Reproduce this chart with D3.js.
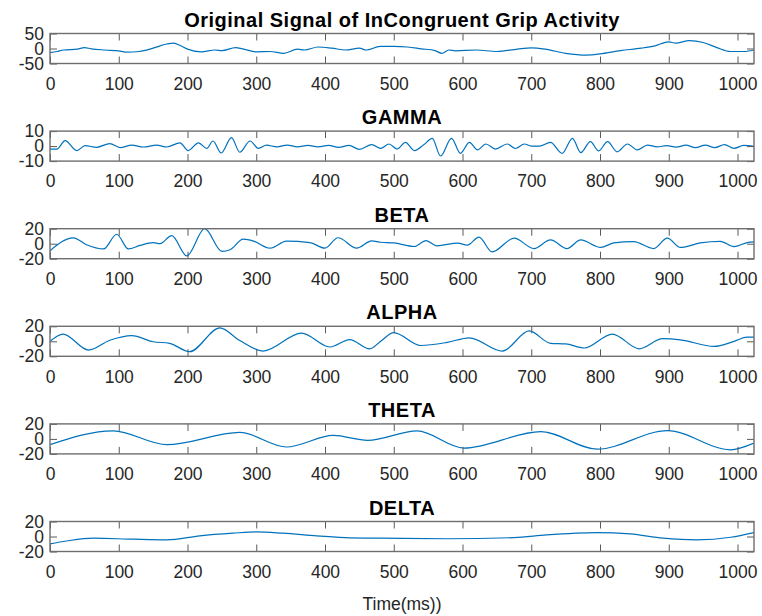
<!DOCTYPE html>
<html>
<head>
<meta charset="UTF-8">
<title>Original Signal of InCongruent Grip Activity</title>
<style>
  body { margin: 0; background: #fff; }
  text { font-family: "Liberation Sans", Arial, Helvetica, sans-serif; }
  .tick-label { fill: #262626; font-size: 17.5px; }
  .panel-title { fill: #000; font-size: 20px; font-weight: bold; letter-spacing: 0.5px; }
</style>
</head>
<body>
<svg id="chart"></svg>
<script src="https://d3js.org/d3.v7.min.js"></script>
<script>
// values: [time (ms), amplitude]
var origSignal = [[0,-14],[10,-10],[20,-5],[40,-2],[50,3],[60,-1],[80,-5],[100,-8],[110,-12],[130,-10],
  [150,1],[170,15],[180,18],[190,9],[200,-2],[220,-11],[240,-5],[250,-7],[270,3],[280,-1],
  [300,-11],[320,-10],[340,-16],[360,-2],[370,-5],[390,5],[410,1],[430,-5],[450,1],[460,-5],
  [480,7],[500,7],[520,5],[540,-1],[560,-7],[570,-16],[580,-5],[590,-8],[620,-5],[650,-10],
  [680,-2],[700,2],[720,-2],[750,-16],[780,-22],[800,-18],[830,-7],[860,1],[880,9],[900,22],
  [910,18],[930,26],[950,20],[970,3],[990,-10],[1010,-10],[1024,-5]];

var gamma = [[0,-2],[10,-2],[22,3.6],[39,-3],[51,0.3],[68,-0.8],[87,1.7],[102,-1],[119,0.6],[136,-0.6],
  [155,0.6],[170,-0.6],[189,2.2],[201,-3],[216,2.2],[228,-1.5],[237,3.4],[249,-4.6],[264,5.7],[276,-4.1],
  [291,3.4],[303,-1.5],[315,0.6],[330,-0.5],[345,0.7],[360,-0.5],[375,0.5],[390,-0.5],[405,0.5],[420,-0.8],
  [435,0.5],[450,-2.2],[468,1],[481,-1.5],[493,1.4],[505,-2],[517,2.5],[530,-3],[544,1],[556,5.2],
  [568,-6.6],[584,5.2],[597,-4.8],[610,2.5],[622,-2.5],[634,1.4],[648,-2],[665,1.4],[677,-1.6],[690,1.4],
  [700,0],[712,0],[728,2.5],[745,-4.8],[760,5.2],[772,-4.3],[786,3],[798,-3.2],[811,3],[825,-3.8],
  [840,1.4],[854,-2.5],[869,0.7],[883,-0.5],[897,0.3],[911,-0.7],[925,0.7],[939,-1],[953,0.7],[967,-1],
  [981,1],[995,-1.5],[1009,0.5],[1024,-0.2]];

var beta = [[0,-9.3],[34,7.9],[53,-1.4],[78,-7],[97,12.6],[114,-7],[131,-2.3],[150,1.4],[160,0],[177,10.7],
  [199,-16.3],[225,20],[250,-10.2],[262,-8],[281,6],[296,3.5],[320,-6],[344,3.3],[378,1.5],[400,-6],
  [419,7.9],[446,-6],[468,3.7],[481,1.9],[500,1],[530,-3.7],[547,4.2],[563,-2.8],[593,0.9],[607,-1.9],
  [624,8.8],[643,-11],[675,7.4],[704,-6.5],[728,5],[752,-6.5],[772,5],[801,-5],[820,1],[849,2.8],
  [878,-6.5],[898,7.4],[917,-5],[946,1],[975,3],[995,-4],[1014,1.5],[1024,2.5]];

var alpha = [[0,0],[19,9.7],[56,-11.7],[87,1.4],[119,7.6],[150,-0.6],[174,-2.7],[203,-13.8],[247,17.9],[276,1],
  [310,-13],[366,10.9],[407,-7.6],[436,2.3],[465,-10],[481,0],[500,11.7],[539,-5.6],[578,-1.4],[610,4.7],
  [658,-13],[697,13.8],[728,-2.7],[750,-3.5],[777,-8.9],[818,9.7],[857,-10],[891,3.5],[917,2],[966,-6.8],
  [995,0],[1014,5.6],[1024,5.6]];

var theta = [[0,-7.7],[92,10.8],[170,-7.7],[276,8.6],[344,-10.8],[412,4.6],[462,-2],[534,10.6],[602,-12.3],
  [714,9.7],[796,-13.6],[898,11],[990,-14.5],[1024,-5.7]];

var delta = [[0,-9.8],[24,-6],[63,-2.2],[121,-3.6],[170,-4.4],[218,0.9],[266,4.4],[300,6.2],[339,4.4],[388,0.9],
  [436,-1.8],[481,-2.2],[578,-3],[675,-1.5],[722,2.2],[796,5.3],[844,3.5],[892,-2.2],[941,-4.4],[990,-1],[1024,5.3]];

var titles = ["Original Signal of InCongruent Grip Activity", "GAMMA", "BETA", "ALPHA", "THETA", "DELTA"];
var series = [origSignal, gamma, beta, alpha, theta, delta];
var yTicks = [[-50, 0, 50], [-10, 0, 10], [-20, 0, 20], [-20, 0, 20], [-20, 0, 20], [-20, 0, 20]];
var xTicks = [0, 100, 200, 300, 400, 500, 600, 700, 800, 900, 1000];
var xLabel = "Time(ms))";

// layout
var width = 762, height = 616;
var left = 50, right = 754, top0 = 33.5, step = 97.6, ph = 30, tickLen = 7;

var svg = d3.select("#chart").attr("width", width).attr("height", height);

var x = d3.scaleLinear().domain([0, 1024]).range([left, right]);
var plain = function(d) { return String(d); }; // keep ascii hyphen like the original

series.forEach(function(data, i) {
  var top = top0 + i * step;
  var y = d3.scaleLinear().domain([yTicks[i][0], yTicks[i][2]]).range([top + ph, top]);
  var g = svg.append("g");

  g.append("clipPath").attr("id", "clip" + i)
    .append("rect").attr("x", left).attr("y", top).attr("width", right - left).attr("height", ph);

  // signal
  var line = d3.line()
    .x(function(d) { return x(d[0]); })
    .y(function(d) { return y(d[1]); })
    .curve(d3.curveMonotoneX);
  g.append("path")
    .datum(data)
    .attr("clip-path", "url(#clip" + i + ")")
    .attr("fill", "none")
    .attr("stroke", "#0072BD")
    .attr("stroke-width", 1.2)
    .attr("d", line);

  // axes: bottom with labels, top/left/right ticks only
  var axB = g.append("g").attr("transform", "translate(0," + (top + ph) + ")")
    .call(d3.axisBottom(x).tickValues(xTicks).tickSize(-tickLen).tickPadding(8).tickFormat(plain));
  var axT = g.append("g").attr("transform", "translate(0," + top + ")")
    .call(d3.axisTop(x).tickValues(xTicks).tickSize(-tickLen).tickFormat(""));
  var axL = g.append("g").attr("transform", "translate(" + left + ",0)")
    .call(d3.axisLeft(y).tickValues(yTicks[i]).tickSize(-tickLen).tickPadding(6).tickFormat(plain));
  var axR = g.append("g").attr("transform", "translate(" + right + ",0)")
    .call(d3.axisRight(y).tickValues(yTicks[i]).tickSize(-tickLen).tickFormat(""));

  [axB, axT, axL, axR].forEach(function(a) {
    a.select(".domain").remove();
    a.selectAll("line").attr("stroke", "#5a5a5a").attr("stroke-width", 1);
    a.selectAll("text").attr("class", "tick-label").attr("font-family", null).attr("font-size", null).attr("fill", null);
  });
  axB.selectAll("text").attr("dy", "1.05em");

  // box
  g.append("rect")
    .attr("x", left).attr("y", top).attr("width", right - left).attr("height", ph)
    .attr("fill", "none").attr("stroke", "#6e6e6e").attr("stroke-width", 1.4);

  g.append("text")
    .attr("class", "panel-title")
    .attr("x", (left + right) / 2)
    .attr("y", top - 7)
    .style("text-anchor", "middle")
    .text(titles[i]);
});

svg.append("text")
  .attr("class", "tick-label")
  .attr("x", (left + right) / 2)
  .attr("y", 610)
  .style("text-anchor", "middle")
  .text(xLabel);
</script>
</body>
</html>
